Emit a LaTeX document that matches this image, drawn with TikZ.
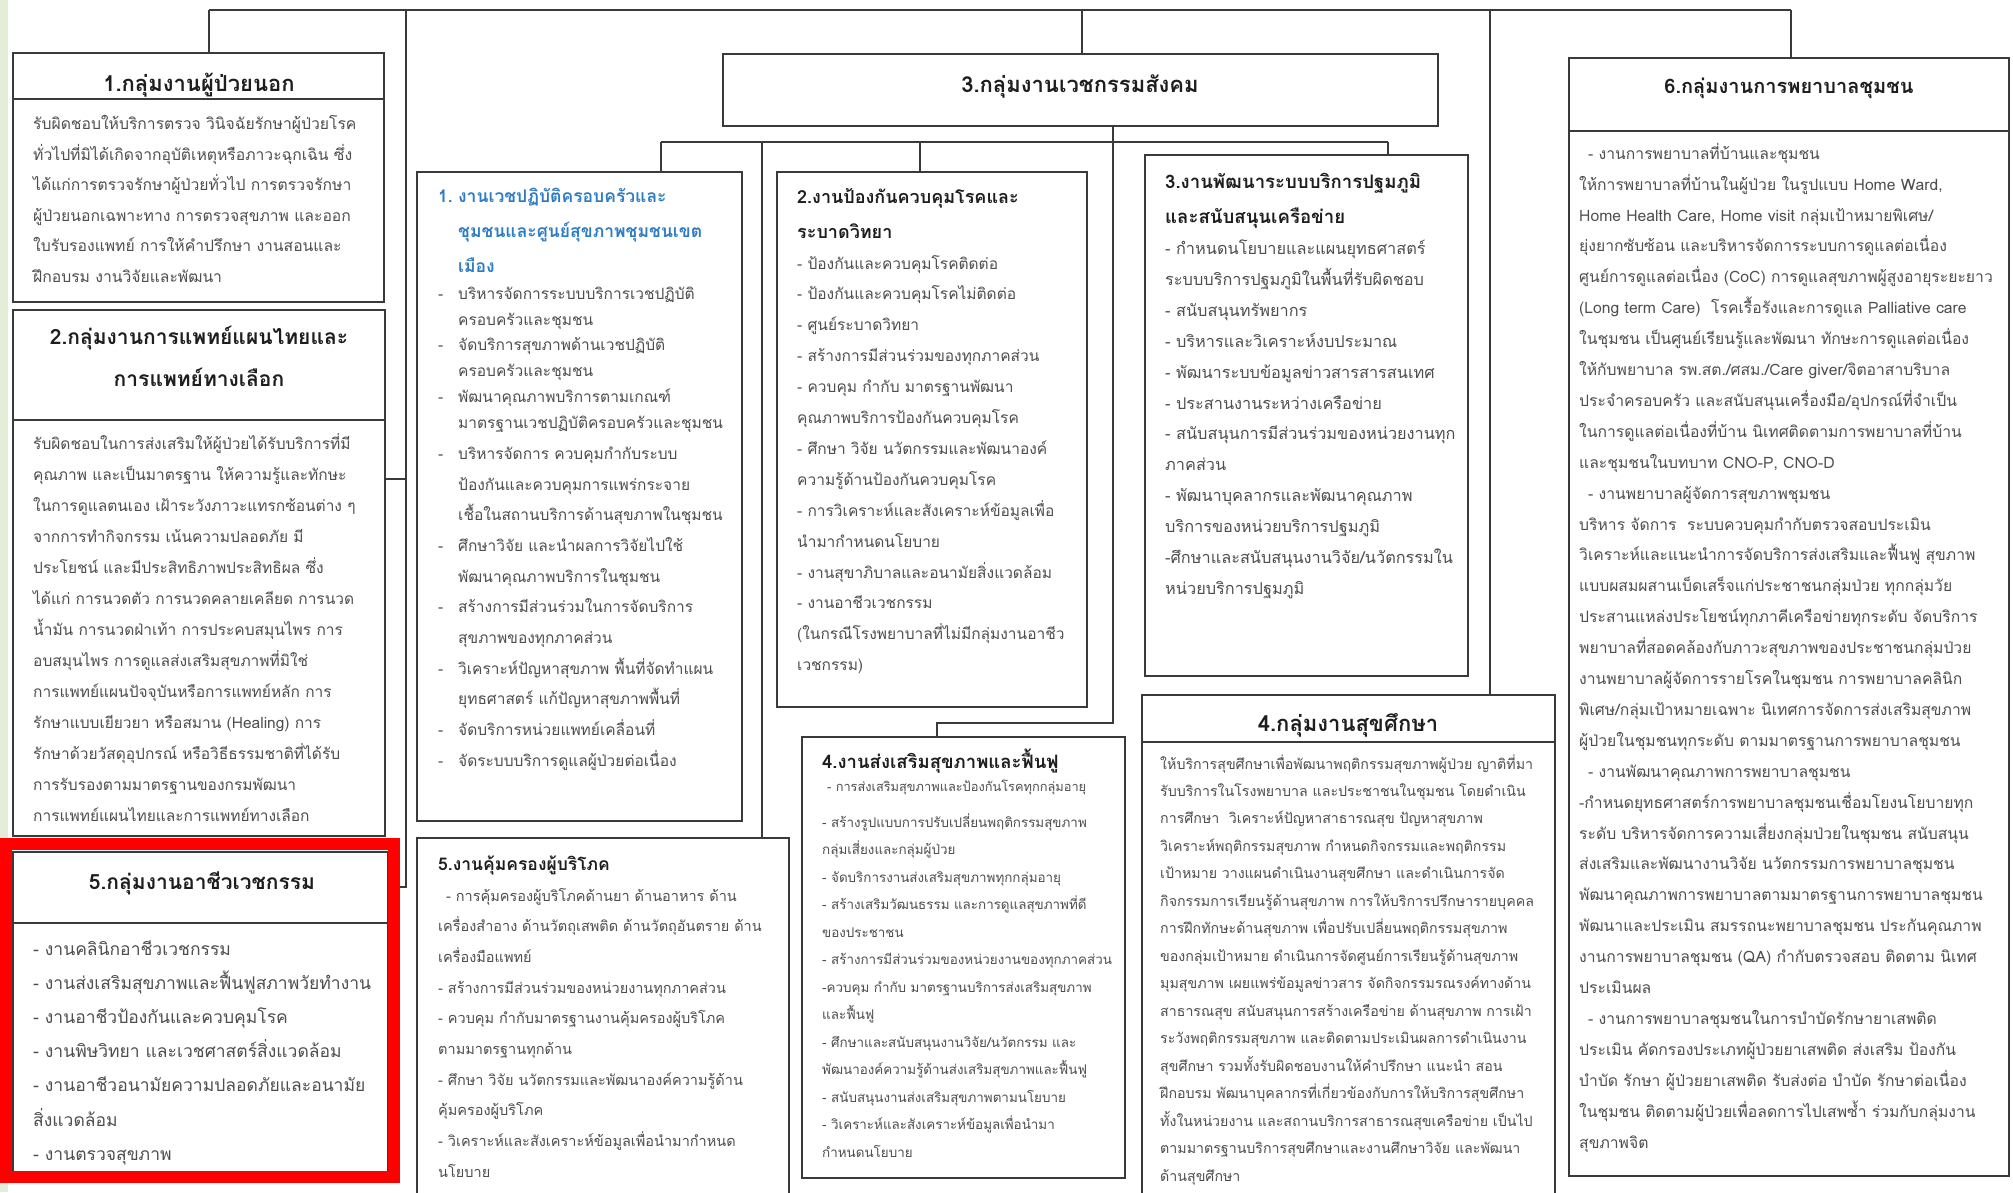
\documentclass[tikz,border=0pt]{standalone}
\usepackage{fontspec}
\setmainfont{Loma}[Script=Thai]
\definecolor{linec}{HTML}{3A3A3A}
\definecolor{bodyc}{HTML}{4E4E4E}
\definecolor{titc}{HTML}{1E1E1E}
\definecolor{bluec}{HTML}{2E7DC4}
\definecolor{redc}{HTML}{FF0000}
\definecolor{greenc}{HTML}{E4EDD8}
\newcommand{\tlines}[1]{\begin{tabular}[t]{@{}l@{}}#1\end{tabular}}
\newcommand{\clines}[1]{\begin{tabular}[t]{@{}c@{}}#1\end{tabular}}
\newcommand{\fs}[2]{\fontsize{#1}{#2}\selectfont}
\newcommand{\dsh}{\makebox[20pt][l]{-}}
\newcommand{\ind}{\hspace*{20pt}}
\renewcommand{\arraystretch}{1}
\begin{document}
\begin{tikzpicture}[x=1pt,y=-1pt,
  box/.style={draw=linec,line width=2.4pt,fill=white,rectangle,inner sep=0pt,outer sep=0pt,anchor=north west},
  conn/.style={draw=linec,line width=2pt},
  txt/.style={inner sep=0pt,anchor=base west,text=bodyc,align=left},
  ttl/.style={inner sep=0pt,anchor=base,text=titc,font=\bfseries},
  sttl/.style={inner sep=0pt,anchor=base west,text=titc,font=\bfseries}]
\useasboundingbox (0,0) rectangle (2013,1192);
\fill[white] (0,0) rectangle (2013,1192);
\fill[greenc] (0,0) rectangle (8,1192);

% junction coordinates
\coordinate (tA) at (209,10);
\coordinate (tB) at (406,10);
\coordinate (tC) at (1082,10);
\coordinate (tD) at (1490,10);
\coordinate (tE) at (1791,10);
\coordinate (k2) at (406,479);
\coordinate (k5) at (406,887);
\coordinate (hL) at (661,142);
\coordinate (h5) at (762,142);
\coordinate (h2) at (920,142);
\coordinate (hR) at (1388,142);
\coordinate (v3) at (1113,723);
\coordinate (v4) at (937,723);

% boxes
\node[box,minimum width=371,minimum height=249] (b1) at (13,53) {};
\node[box,minimum width=372,minimum height=526] (b2) at (13,310) {};
\node[box,minimum width=375,minimum height=323] (b5) at (13,852) {};
\node[box,minimum width=715,minimum height=72] (b3) at (723,54) {};
\node[box,minimum width=325,minimum height=649] (s1) at (417,172) {};
\node[box,minimum width=310,minimum height=535] (s2) at (777,172) {};
\node[box,minimum width=323,minimum height=521] (s3) at (1145,155) {};
\node[box,minimum width=323,minimum height=441] (s4) at (802,737) {};
\node[box,minimum width=372,minimum height=370] (s5) at (417,838) {};
\node[box,minimum width=413,minimum height=510] (b4) at (1142,695) {};
\node[box,minimum width=440,minimum height=1118] (b6) at (1569,58) {};

% title dividers
\draw[linec,line width=2.4pt] (13,99) -- (384,99);
\draw[linec,line width=2.4pt] (13,420) -- (385,420);
\draw[linec,line width=2.4pt] (13,923) -- (388,923);
\draw[linec,line width=2.4pt] (1142,742) -- (1555,742);
\draw[linec,line width=2.4pt] (1569,131) -- (2009,131);

% connectors
\draw[conn] (tA) -- (tE);
\draw[conn] (tA) -- (b1.north -| tA);
\draw[conn] (tB) -- (k5) -- (b5.east |- k5);
\draw[conn] (k2) -- (b2.east |- k2);
\draw[conn] (tC) -- (b3.north -| tC);
\draw[conn] (tD) -- (b4.north -| tD);
\draw[conn] (tE) -- (b6.north -| tE);
\draw[conn] (hL) -- (hR);
\draw[conn] (hL) -- (s1.north -| hL);
\draw[conn] (h2) -- (s2.north -| h2);
\draw[conn] (hR) -- (s3.north -| hR);
\draw[conn] (h5) -- (s5.north -| h5);
\draw[conn] (b3.south -| v3) -- (v3) -- (v4) -- (s4.north -| v4);

% ---- box 1
\node[ttl] (t1) at (199,91) {\fs{22}{26}1.กลุ่มงานผู้ป่วยนอก};
\node[txt] (x1) at (33,129.5) {\fs{15.7}{30.5}\tlines{%
รับผิดชอบให้บริการตรวจ วินิจฉัยรักษาผู้ป่วยโรค\\
ทั่วไปที่มิได้เกิดจากอุบัติเหตุหรือภาวะฉุกเฉิน ซึ่ง\\
ได้แก่การตรวจรักษาผู้ป่วยทั่วไป การตรวจรักษา\\
ผู้ป่วยนอกเฉพาะทาง การตรวจสุขภาพ และออก\\
ใบรับรองแพทย์ การให้คำปรึกษา งานสอนและ\\
ฝึกอบรม งานวิจัยและพัฒนา}};

% ---- box 2
\node[ttl] (t2) at (199,344) {\fs{21}{42}\clines{2.กลุ่มงานการแพทย์แผนไทยและ\\การแพทย์ทางเลือก}};
\node[txt] (x2) at (33,449.3) {\fs{15.5}{31}\tlines{%
รับผิดชอบในการส่งเสริมให้ผู้ป่วยได้รับบริการที่มี\\
คุณภาพ และเป็นมาตรฐาน ให้ความรู้และทักษะ\\
ในการดูแลตนเอง เฝ้าระวังภาวะแทรกซ้อนต่าง ๆ\\
จากการทำกิจกรรม เน้นความปลอดภัย มี\\
ประโยชน์ และมีประสิทธิภาพประสิทธิผล ซึ่ง\\
ได้แก่ การนวดตัว การนวดคลายเคลียด การนวด\\
น้ำมัน การนวดฝ่าเท้า การประคบสมุนไพร การ\\
อบสมุนไพร การดูแลส่งเสริมสุขภาพที่มิใช่\\
การแพทย์แผนปัจจุบันหรือการแพทย์หลัก การ\\
รักษาแบบเยียวยา หรือสมาน (Healing) การ\\
รักษาด้วยวัสดุอุปกรณ์ หรือวิธีธรรมชาติที่ได้รับ\\
การรับรองตามมาตรฐานของกรมพัฒนา\\
การแพทย์แผนไทยและการแพทย์ทางเลือก}};

% ---- box 5 (occupational)
\node[ttl] (t5) at (202,889) {\fs{21}{26}5.กลุ่มงานอาชีวเวชกรรม};
\node[txt] (x5) at (33,955) {\fs{17.5}{34.2}\tlines{%
- งานคลินิกอาชีวเวชกรรม\\
- งานส่งเสริมสุขภาพและฟื้นฟูสภาพวัยทำงาน\\
- งานอาชีวป้องกันและควบคุมโรค\\
- งานพิษวิทยา และเวชศาสตร์สิ่งแวดล้อม\\
- งานอาชีวอนามัยความปลอดภัยและอนามัย\\
สิ่งแวดล้อม\\
- งานตรวจสุขภาพ}};

% ---- box 3 title
\node[ttl] (t3) at (1080,92) {\fs{22}{26}3.กลุ่มงานเวชกรรมสังคม};

% ---- sub 1
\node[sttl,text=bluec] (u1) at (438,202) {\fs{17.5}{35}\tlines{%
\makebox[20pt][l]{1.}งานเวชปฏิบัติครอบครัวและ\\
\ind ชุมชนและศูนย์สุขภาพชุมชนเขต\\
\ind เมือง}};
\node[txt] (y1) at (438,299.3) {\fs{15.5}{25.8}\tlines{%
\dsh บริหารจัดการระบบบริการเวชปฏิบัติ\\
\ind ครอบครัวและชุมชน\\
\dsh จัดบริการสุขภาพด้านเวชปฏิบัติ\\
\ind ครอบครัวและชุมชน\\
\dsh พัฒนาคุณภาพบริการตามเกณฑ์\\
\ind มาตรฐานเวชปฏิบัติครอบครัวและชุมชน}};
\node[txt] (z1) at (438,459.3) {\fs{15.5}{30.7}\tlines{%
\dsh บริหารจัดการ ควบคุมกำกับระบบ\\
\ind ป้องกันและควบคุมการแพร่กระจาย\\
\ind เชื้อในสถานบริการด้านสุขภาพในชุมชน\\
\dsh ศึกษาวิจัย และนำผลการวิจัยไปใช้\\
\ind พัฒนาคุณภาพบริการในชุมชน\\
\dsh สร้างการมีส่วนร่วมในการจัดบริการ\\
\ind สุขภาพของทุกภาคส่วน\\
\dsh วิเคราะห์ปัญหาสุขภาพ พื้นที่จัดทำแผน\\
\ind ยุทธศาสตร์ แก้ปัญหาสุขภาพพื้นที่\\
\dsh จัดบริการหน่วยแพทย์เคลื่อนที่\\
\dsh จัดระบบบริการดูแลผู้ป่วยต่อเนื่อง}};

% ---- sub 2
\node[sttl] (u2) at (797,203) {\fs{18}{35}\tlines{2.งานป้องกันควบคุมโรคและ\\ระบาดวิทยา}};
\node[txt] (y2) at (797,269) {\fs{15.5}{30.9}\tlines{%
- ป้องกันและควบคุมโรคติดต่อ\\
- ป้องกันและควบคุมโรคไม่ติดต่อ\\
- ศูนย์ระบาดวิทยา\\
- สร้างการมีส่วนร่วมของทุกภาคส่วน\\
- ควบคุม กำกับ มาตรฐานพัฒนา\\
คุณภาพบริการป้องกันควบคุมโรค\\
- ศึกษา วิจัย นวัตกรรมและพัฒนาองค์\\
ความรู้ด้านป้องกันควบคุมโรค\\
- การวิเคราะห์และสังเคราะห์ข้อมูลเพื่อ\\
นำมากำหนดนโยบาย\\
- งานสุขาภิบาลและอนามัยสิ่งแวดล้อม\\
- งานอาชีวเวชกรรม\\
(ในกรณีโรงพยาบาลที่ไม่มีกลุ่มงานอาชีว\\
เวชกรรม)}};

% ---- sub 3
\node[sttl] (u3) at (1165,188.3) {\fs{18.6}{35}\tlines{3.งานพัฒนาระบบบริการปฐมภูมิ\\และสนับสนุนเครือข่าย}};
\node[txt] (y3) at (1165,254.5) {\fs{16.3}{30.9}\tlines{%
- กำหนดนโยบายและแผนยุทธศาสตร์\\
ระบบบริการปฐมภูมิในพื้นที่รับผิดชอบ\\
- สนับสนุนทรัพยากร\\
- บริหารและวิเคราะห์งบประมาณ\\
- พัฒนาระบบข้อมูลข่าวสารสารสนเทศ\\
- ประสานงานระหว่างเครือข่าย\\
- สนับสนุนการมีส่วนร่วมของหน่วยงานทุก\\
ภาคส่วน\\
- พัฒนาบุคลากรและพัฒนาคุณภาพ\\
บริการของหน่วยบริการปฐมภูมิ\\
-ศึกษาและสนับสนุนงานวิจัย/นวัตกรรมใน\\
หน่วยบริการปฐมภูมิ}};

% ---- sub 4
\node[sttl] (u4) at (822,768) {\fs{18.5}{26}4.งานส่งเสริมสุขภาพและฟื้นฟู};
\node[txt] (w4) at (822,791) {\fs{12.8}{20}\hspace*{5pt}- การส่งเสริมสุขภาพและป้องกันโรคทุกกลุ่มอายุ};
\node[txt] (y4) at (822,827) {\fs{13.4}{27.5}\tlines{%
- สร้างรูปแบบการปรับเปลี่ยนพฤติกรรมสุขภาพ\\
กลุ่มเสี่ยงและกลุ่มผู้ป่วย\\
- จัดบริการงานส่งเสริมสุขภาพทุกกลุ่มอายุ\\
- สร้างเสริมวัฒนธรรม และการดูแลสุขภาพที่ดี\\
ของประชาชน\\
- สร้างการมีส่วนร่วมของหน่วยงานของทุกภาคส่วน\\
-ควบคุม กำกับ มาตรฐานบริการส่งเสริมสุขภาพ\\
และฟื้นฟู\\
- ศึกษาและสนับสนุนงานวิจัย/นวัตกรรม และ\\
พัฒนาองค์ความรู้ด้านส่งเสริมสุขภาพและฟื้นฟู\\
- สนับสนุนงานส่งเสริมสุขภาพตามนโยบาย\\
- วิเคราะห์และสังเคราะห์ข้อมูลเพื่อนำมา\\
กำหนดนโยบาย}};

% ---- sub 5 (consumer protection)
\node[sttl] (u5) at (438,870) {\fs{17.5}{26}5.งานคุ้มครองผู้บริโภค};
\node[txt] (y5) at (438,901) {\fs{14.5}{30.7}\tlines{%
\hspace*{8pt}- การคุ้มครองผู้บริโภคด้านยา ด้านอาหาร ด้าน\\
เครื่องสำอาง ด้านวัตถุเสพติด ด้านวัตถุอันตราย ด้าน\\
เครื่องมือแพทย์\\
- สร้างการมีส่วนร่วมของหน่วยงานทุกภาคส่วน\\
- ควบคุม กำกับมาตรฐานงานคุ้มครองผู้บริโภค\\
ตามมาตรฐานทุกด้าน\\
- ศึกษา วิจัย นวัตกรรมและพัฒนาองค์ความรู้ด้าน\\
คุ้มครองผู้บริโภค\\
- วิเคราะห์และสังเคราะห์ข้อมูลเพื่อนำมากำหนด\\
นโยบาย}};

% ---- box 4 health education
\node[ttl] (t4) at (1348,731) {\fs{22}{26}4.กลุ่มงานสุขศึกษา};
\node[txt] (x4) at (1160,769) {\fs{14.2}{27.47}\tlines{%
ให้บริการสุขศึกษาเพื่อพัฒนาพฤติกรรมสุขภาพผู้ป่วย ญาติที่มา\\
รับบริการในโรงพยาบาล และประชาชนในชุมชน โดยดำเนิน\\
การศึกษา\ \ วิเคราะห์ปัญหาสาธารณสุข ปัญหาสุขภาพ\\
วิเคราะห์พฤติกรรมสุขภาพ กำหนดกิจกรรมและพฤติกรรม\\
เป้าหมาย วางแผนดำเนินงานสุขศึกษา และดำเนินการจัด\\
กิจกรรมการเรียนรู้ด้านสุขภาพ การให้บริการปรึกษารายบุคคล\\
การฝึกทักษะด้านสุขภาพ เพื่อปรับเปลี่ยนพฤติกรรมสุขภาพ\\
ของกลุ่มเป้าหมาย ดำเนินการจัดศูนย์การเรียนรู้ด้านสุขภาพ\\
มุมสุขภาพ เผยแพร่ข้อมูลข่าวสาร จัดกิจกรรมรณรงค์ทางด้าน\\
สาธารณสุข สนับสนุนการสร้างเครือข่าย ด้านสุขภาพ การเฝ้า\\
ระวังพฤติกรรมสุขภาพ และติดตามประเมินผลการดำเนินงาน\\
สุขศึกษา รวมทั้งรับผิดชอบงานให้คำปรึกษา แนะนำ สอน\\
ฝึกอบรม พัฒนาบุคลากรที่เกี่ยวข้องกับการให้บริการสุขศึกษา\\
ทั้งในหน่วยงาน และสถานบริการสาธารณสุขเครือข่าย เป็นไป\\
ตามมาตรฐานบริการสุขศึกษาและงานศึกษาวิจัย และพัฒนา\\
ด้านสุขศึกษา}};

% ---- box 6 community nursing
\node[ttl] (t6) at (1789,93) {\fs{20}{26}6.กลุ่มงานการพยาบาลชุมชน};
\node[txt] (x6) at (1579,159.2) {\fs{15.7}{30.9}\tlines{%
\hspace*{9pt}- งานการพยาบาลที่บ้านและชุมชน\\
ให้การพยาบาลที่บ้านในผู้ป่วย ในรูปแบบ Home Ward,\\
Home Health Care, Home visit กลุ่มเป้าหมายพิเศษ/\\
ยุ่งยากซับซ้อน และบริหารจัดการระบบการดูแลต่อเนื่อง\\
ศูนย์การดูแลต่อเนื่อง (CoC) การดูแลสุขภาพผู้สูงอายุระยะยาว\\
(Long term Care)\ \ โรคเรื้อรังและการดูแล Palliative care\\
ในชุมชน เป็นศูนย์เรียนรู้และพัฒนา ทักษะการดูแลต่อเนื่อง\\
ให้กับพยาบาล รพ.สต./ศสม./Care giver/จิตอาสาบริบาล\\
ประจำครอบครัว และสนับสนุนเครื่องมือ/อุปกรณ์ที่จำเป็น\\
ในการดูแลต่อเนื่องที่บ้าน นิเทศติดตามการพยาบาลที่บ้าน\\
และชุมชนในบทบาท CNO-P, CNO-D\\
\hspace*{9pt}- งานพยาบาลผู้จัดการสุขภาพชุมชน\\
บริหาร จัดการ\ \ ระบบควบคุมกำกับตรวจสอบประเมิน\\
วิเคราะห์และแนะนำการจัดบริการส่งเสริมและฟื้นฟู สุขภาพ\\
แบบผสมผสานเบ็ดเสร็จแก่ประชาชนกลุ่มป่วย ทุกกลุ่มวัย\\
ประสานแหล่งประโยชน์ทุกภาคีเครือข่ายทุกระดับ จัดบริการ\\
พยาบาลที่สอดคล้องกับภาวะสุขภาพของประชาชนกลุ่มป่วย\\
งานพยาบาลผู้จัดการรายโรคในชุมชน การพยาบาลคลินิก\\
พิเศษ/กลุ่มเป้าหมายเฉพาะ นิเทศการจัดการส่งเสริมสุขภาพ\\
ผู้ป่วยในชุมชนทุกระดับ ตามมาตรฐานการพยาบาลชุมชน\\
\hspace*{9pt}- งานพัฒนาคุณภาพการพยาบาลชุมชน\\
-กำหนดยุทธศาสตร์การพยาบาลชุมชนเชื่อมโยงนโยบายทุก\\
ระดับ บริหารจัดการความเสี่ยงกลุ่มป่วยในชุมชน สนับสนุน\\
ส่งเสริมและพัฒนางานวิจัย นวัตกรรมการพยาบาลชุมชน\\
พัฒนาคุณภาพการพยาบาลตามมาตรฐานการพยาบาลชุมชน\\
พัฒนาและประเมิน สมรรถนะพยาบาลชุมชน ประกันคุณภาพ\\
งานการพยาบาลชุมชน (QA) กำกับตรวจสอบ ติดตาม นิเทศ\\
ประเมินผล\\
\hspace*{9pt}- งานการพยาบาลชุมชนในการบำบัดรักษายาเสพติด\\
ประเมิน คัดกรองประเภทผู้ป่วยยาเสพติด ส่งเสริม ป้องกัน\\
บำบัด รักษา ผู้ป่วยยาเสพติด รับส่งต่อ บำบัด รักษาต่อเนื่อง\\
ในชุมชน ติดตามผู้ป่วยเพื่อลดการไปเสพซ้ำ ร่วมกับกลุ่มงาน\\
สุขภาพจิต}};

% ---- red highlight
\draw[redc,line width=12pt] (6,844) rectangle (394,1177);
\end{tikzpicture}
\end{document}
